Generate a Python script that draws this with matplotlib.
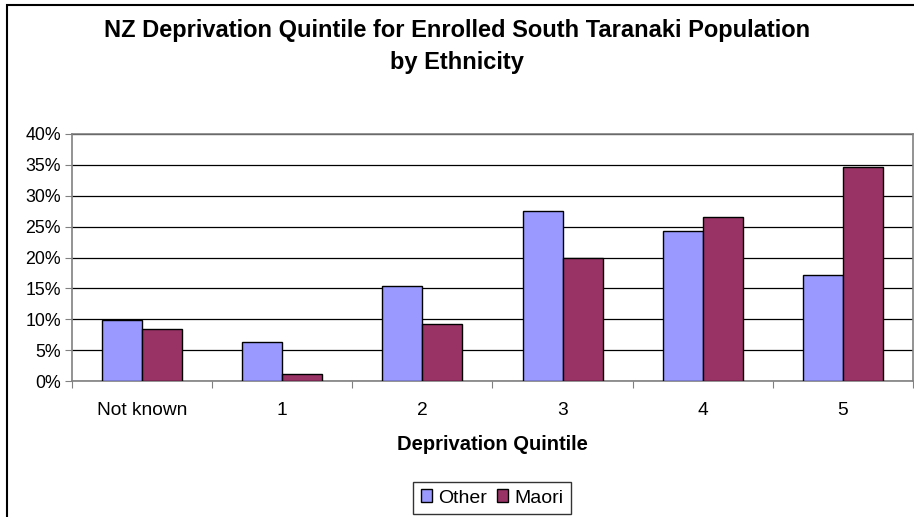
import numpy as np
import matplotlib
matplotlib.use('Agg')
import matplotlib.pyplot as plt
from matplotlib.patches import Rectangle
from matplotlib.ticker import PercentFormatter

plt.rcParams['font.family'] = ['Liberation Sans', 'DejaVu Sans']

categories = ['Not known', '1', '2', '3', '4', '5']
other = [9.8, 6.3, 15.4, 27.6, 24.3, 17.2]
maori = [8.5, 1.2, 9.3, 19.9, 26.6, 34.7]
yticks = [0, 5, 10, 15, 20, 25, 30, 35, 40]

fig = plt.figure(figsize=(9.14, 5.17), dpi=100)
# outer chart frame, runs off the right and bottom edges
fig.patches.append(Rectangle((7/914, -0.1), 1.2, 1 - 5/517 + 0.1,
                             transform=fig.transFigure, fill=False,
                             edgecolor='black', linewidth=1.5))

ax = fig.add_axes([72/914, 1 - 381/517, (913 - 72)/914, (381 - 134)/517])

x = np.arange(len(categories))
w = 40/140
ax.bar(x - w/2, other, w, color='#9999FF', edgecolor='black', linewidth=1, label='Other', zorder=3)
ax.bar(x + w/2, maori, w, color='#993366', edgecolor='black', linewidth=1, label='Maori', zorder=3)

ax.set_xlim(-0.5, len(categories) - 0.5)
ax.set_ylim(0, 40)
ax.set_yticks(yticks)
ax.yaxis.set_major_formatter(PercentFormatter(decimals=0))
ax.yaxis.grid(True, color='black', linewidth=0.9, zorder=0)

# ticks at category boundaries, labels at centres
ax.set_xticks(np.arange(len(categories) + 1) - 0.5)
ax.set_xticklabels([])
ax.set_xticks(x, minor=True)
ax.set_xticklabels(categories, minor=True, fontsize=13.8)
ax.tick_params(axis='x', which='minor', length=0, pad=15)
ax.tick_params(axis='x', which='major', length=5, color='#808080')
ax.tick_params(axis='y', length=5, color='#808080', labelsize=12.8, pad=3)

for s in ax.spines.values():
    s.set_color('#808080')
    s.set_linewidth(1.2)

ax.set_xlabel('Deprivation Quintile', fontsize=14.5, fontweight='bold', labelpad=12)
fig.text(0.5, 1 - 47/517, 'NZ Deprivation Quintile for Enrolled South Taranaki Population\nby Ethnicity',
         ha='center', va='center', fontsize=17, fontweight='bold', linespacing=1.5)

leg = fig.legend(loc='center', bbox_to_anchor=(492/914, 1 - 498/517), ncol=2, fontsize=14,
                 frameon=True, fancybox=False, edgecolor='black', handlelength=0.6,
                 handleheight=0.6, handletextpad=0.3, columnspacing=0.5, borderpad=0.4)
leg.get_frame().set_linewidth(1)

fig.savefig('out.png', dpi=100)
